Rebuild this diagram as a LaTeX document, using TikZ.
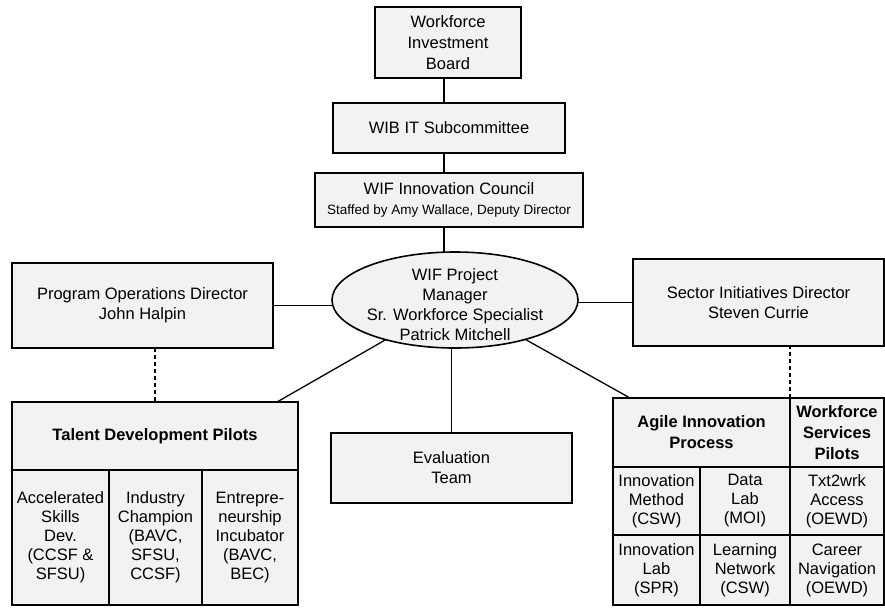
\documentclass[tikz,border=0pt]{standalone}
\usepackage{fontspec}
\setmainfont{Liberation Sans}
\usetikzlibrary{shapes.geometric,calc}
\newcommand\fsmain{\fontsize{16.5}{20}\selectfont}
\newcommand\fscell{\fontsize{16.5}{19}\selectfont}
\newcommand\fshead{\fontsize{16.5}{21}\selectfont\bfseries}
\begin{document}
\begin{tikzpicture}[x=1pt,y=-1pt,
  box/.style={draw, line width=1.6pt, fill=black!5, inner sep=0pt, outer sep=0pt, align=center, font=\fsmain},
  cell/.style={box, font=\fscell, anchor=north west},
  headcell/.style={box, font=\fshead, anchor=north west},
  conn/.style={line width=1.3pt},
  dashline/.style={line width=1.3pt, dash pattern=on 4pt off 3pt}]
\useasboundingbox (0,0) rectangle (885,611);

% top chain
\node[box, minimum width=146pt, minimum height=71pt, font=\fontsize{16.5}{21}\selectfont] (wib) at (448,42.5) {Workforce\\Investment\\Board};
\node[box, minimum width=232pt, minimum height=50pt] (itsub) at (449,128) {WIB IT Subcommittee};
\node[box, minimum width=268pt, minimum height=54pt] (council) at (449,200) {WIF Innovation Council\\{\fontsize{13.5}{16}\selectfont Staffed by Amy Wallace, Deputy Director}};

% project manager
\node[ellipse, draw, line width=1.6pt, fill=black!5, minimum width=246pt, minimum height=96pt, inner sep=0pt, outer sep=0pt,
  label={[font=\fsmain, align=center, yshift=-5pt]center:{WIF Project\\Manager\\Sr. Workforce Specialist\\Patrick Mitchell}}] (pm) at (455,300) {};

% directors
\node[box, minimum width=261pt, minimum height=85pt] (pod) at (142.5,305.5) {Program Operations Director\\John Halpin};
\node[box, minimum width=251pt, minimum height=87pt] (sid) at (758.5,302.5) {Sector Initiatives Director\\Steven Currie};
\node[box, minimum width=241pt, minimum height=70pt] (eval) at (451.5,468) {Evaluation\\Team};

% talent development table
\node[headcell, minimum width=286pt, minimum height=68pt] (tdp) at (12,402) {Talent Development Pilots};
\node[cell, minimum width=97pt, minimum height=135pt] (td1) at (12,470) {Accelerated\\Skills\\Dev.\\(CCSF \&\\SFSU)};
\node[cell, minimum width=93pt, minimum height=135pt] (td2) at (109,470) {Industry\\Champion\\(BAVC,\\SFSU,\\CCSF)};
\node[cell, minimum width=96pt, minimum height=135pt] (td3) at (202,470) {Entrepre-\\neurship\\Incubator\\(BAVC,\\BEC)};

% agile innovation table
\node[headcell, minimum width=177pt, minimum height=69pt] (aip) at (613,398) {Agile Innovation\\Process};
\node[headcell, minimum width=94pt, minimum height=69pt] (wsp) at (790,398) {Workforce\\Services\\Pilots};
\node[cell, minimum width=87pt, minimum height=68pt] (a11) at (613,467) {Innovation\\Method\\(CSW)};
\node[cell, minimum width=90pt, minimum height=68pt] (a12) at (700,467) {Data\\Lab\\(MOI)};
\node[cell, minimum width=94pt, minimum height=68pt] (a13) at (790,467) {Txt2wrk\\Access\\(OEWD)};
\node[cell, minimum width=87pt, minimum height=70pt] (a21) at (613,535) {Innovation\\Lab\\(SPR)};
\node[cell, minimum width=90pt, minimum height=70pt] (a22) at (700,535) {Learning\\Network\\(CSW)};
\node[cell, minimum width=94pt, minimum height=70pt] (a23) at (790,535) {Career\\Navigation\\(OEWD)};

% connectors
\coordinate (spine) at (444,0);
\draw[conn] (wib.south -| spine) -- (itsub.north -| spine);
\draw[conn] (itsub.south -| spine) -- (council.north -| spine);
\draw[conn] (council.south -| spine) -- (spine |- pm.north);
\draw[conn] (pod.east) -- (pod.east -| pm.west);
\draw[conn] (sid.west) -- (sid.west -| pm.east);
\draw[conn] (pm) -- ($(tdp.north east)+(-21,0)$);
\draw[conn] (pm) -- ($(aip.north west)+(17,0)$);
\draw[conn] (eval.north) -- (eval.north |- pm.south);
\draw[dashline] (pod.south -| tdp.north) -- (tdp.north);
\draw[dashline] (wsp.north west) -- (wsp.north west |- sid.south);
\end{tikzpicture}
\end{document}
